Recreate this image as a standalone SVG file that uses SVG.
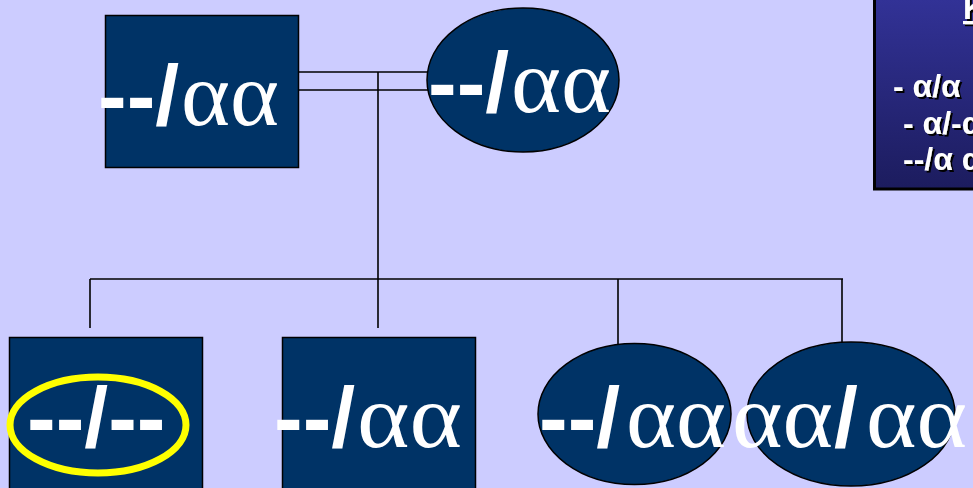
<svg xmlns="http://www.w3.org/2000/svg" width="973" height="488" viewBox="0 0 973 488">
  <defs>
    <linearGradient id="keyFill" x1="0" y1="0" x2="0" y2="1">
      <stop offset="0" stop-color="#333399"/>
      <stop offset="1" stop-color="#1c1c5e"/>
    </linearGradient>
    <filter id="shadow" x="-10%" y="-20%" width="130%" height="150%">
      <feDropShadow dx="2" dy="2" stdDeviation="0.3" flood-color="#000" flood-opacity="1"/>
    </filter>
    <style>
      .node { fill: #003366; stroke: #000; stroke-width: 1.5; }
      .lbl { fill: #fff; font-size: 86px; }
      .sans { font-family: "Liberation Sans", Arial, sans-serif; font-weight: bold; }
      .greek { font-family: "Liberation Serif", "Times New Roman", serif; font-weight: normal; font-size: 90px; }
      .wire { fill: none; stroke: #000; stroke-width: 1.6; }
      .key { fill: #fff; font-family: "Liberation Sans", Arial, sans-serif; font-weight: bold; font-size: 32px; filter: url(#shadow); }
    </style>
  </defs>

  <rect x="0" y="0" width="973" height="488" fill="#ccccff"/>

  <!-- connectors -->
  <g id="connectors" class="wire">
    <line x1="298" y1="72" x2="430" y2="72"/>
    <line x1="298" y1="90" x2="430" y2="90"/>
    <line x1="378" y1="72" x2="378" y2="279"/>
    <line x1="90" y1="279" x2="843" y2="279"/>
    <line x1="90" y1="279" x2="90" y2="328"/>
    <line x1="378" y1="279" x2="378" y2="328"/>
    <line x1="618" y1="279" x2="618" y2="344"/>
    <line x1="842" y1="279" x2="842" y2="343"/>
  </g>

  <!-- parents -->
  <g id="father">
    <rect class="node" x="105.5" y="15.5" width="193" height="152"/>
    <text class="lbl sans" y="125"><tspan x="98">--/</tspan><tspan class="greek" x="181" textLength="98" lengthAdjust="spacingAndGlyphs">αα</tspan></text>
  </g>
  <g id="mother">
    <ellipse class="node" cx="523" cy="80" rx="96" ry="72"/>
    <text class="lbl sans" y="112"><tspan x="428">--/</tspan><tspan class="greek" x="511" textLength="100" lengthAdjust="spacingAndGlyphs">αα</tspan></text>
  </g>

  <!-- children -->
  <g id="child1">
    <rect class="node" x="9.5" y="337.5" width="193" height="160"/>
    <ellipse cx="98" cy="425" rx="88" ry="48" fill="none" stroke="#ffff00" stroke-width="7"/>
    <text class="lbl sans" x="27" y="447">--/--</text>
  </g>
  <g id="child2">
    <rect class="node" x="282.5" y="337.5" width="193" height="160"/>
    <text class="lbl sans" y="447"><tspan x="274">--/</tspan><tspan class="greek" x="357" textLength="105" lengthAdjust="spacingAndGlyphs">αα</tspan></text>
  </g>
  <g id="child3">
    <ellipse class="node" cx="634.5" cy="414" rx="96.5" ry="70.5"/>
    <text class="lbl sans" y="447"><tspan x="539">--/</tspan><tspan class="greek" x="626" textLength="100" lengthAdjust="spacingAndGlyphs">αα</tspan></text>
  </g>
  <g id="child4">
    <ellipse class="node" cx="851" cy="414" rx="104" ry="72"/>
    <text class="lbl sans" y="447"><tspan class="greek" x="732" textLength="101" lengthAdjust="spacingAndGlyphs">αα</tspan><tspan x="834">/</tspan><tspan class="greek" x="866" textLength="101" lengthAdjust="spacingAndGlyphs">αα</tspan></text>
  </g>

  <!-- key panel -->
  <g id="key">
    <rect x="874.5" y="-10" width="120" height="199" fill="url(#keyFill)" stroke="#000" stroke-width="3"/>
    <text class="key" x="963" y="19" text-decoration="underline">K</text>
    <text class="key" x="893" y="97">- α/α</text>
    <text class="key" x="903" y="134">- α/-α</text>
    <text class="key" x="903" y="170">--/α α</text>
  </g>
</svg>
